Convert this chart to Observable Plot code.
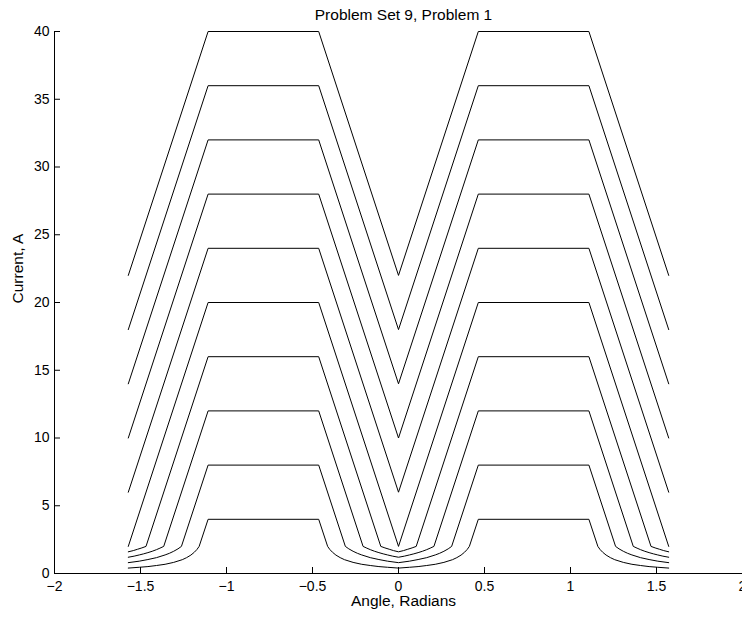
<!DOCTYPE html>
<html>
<head>
<meta charset="utf-8">
<script src="https://cdn.jsdelivr.net/npm/d3@7"></script>
<script src="https://cdn.jsdelivr.net/npm/@observablehq/plot@0.6"></script>
<style>
  html, body { margin: 0; padding: 0; background: #fff; }
  svg { display: block; }
</style>
</head>
<body>
<div id="chart"></div>
<script>
// ---- Text ----
const titleText = "Problem Set 9, Problem 1";
const xLabel = "Angle, Radians";
const yLabel = "Current, A";

// ---- Ticks ----
const xTicks = [-2, -1.5, -1, -0.5, 0, 0.5, 1, 1.5, 2];
const yTicks = [0, 5, 10, 15, 20, 25, 30, 35, 40];

// ---- Series (left half, angle from -pi/2 to 0; the right half is the mirror image) ----
const angleLinear = [-1.571, -1.107, -0.464, 0];
const current40 = [22, 40, 40, 22];
const current36 = [18, 36, 36, 18];
const current32 = [14, 32, 32, 14];
const current28 = [10, 28, 28, 10];
const current24 = [6, 24, 24, 6];
const current20 = [2, 20, 20, 2];

const angle16 = [-1.571, -1.542, -1.517, -1.492, -1.468, -1.107, -0.464, -0.103, -0.079, -0.054, -0.029, 0];
const current16 = [1.60, 1.69, 1.79, 1.89, 2.00, 16, 16, 2.00, 1.89, 1.79, 1.69, 1.60];

const angle12 = [-1.571, -1.537, -1.507, -1.482, -1.457, -1.432, -1.407, -1.387, -1.365, -1.107, -0.464, -0.206, -0.184, -0.164, -0.139, -0.114, -0.089, -0.064, -0.034, 0];
const current12 = [1.20, 1.28, 1.37, 1.45, 1.54, 1.64, 1.76, 1.87, 2.00, 12, 12, 2.00, 1.87, 1.76, 1.64, 1.54, 1.45, 1.37, 1.28, 1.20];

const angle8 = [-1.571, -1.507, -1.457, -1.407, -1.357, -1.332, -1.307, -1.282, -1.262, -1.107, -0.464, -0.309, -0.289, -0.264, -0.239, -0.214, -0.164, -0.114, -0.064, 0];
const current8 = [0.80, 0.91, 1.03, 1.17, 1.37, 1.49, 1.64, 1.82, 2.00, 8, 8, 2.00, 1.82, 1.64, 1.49, 1.37, 1.17, 1.03, 0.91, 0.80];

const angle4 = [-1.571, -1.507, -1.457, -1.407, -1.357, -1.307, -1.257, -1.232, -1.207, -1.187, -1.172, -1.159, -1.107, -0.464, -0.412, -0.399, -0.384, -0.364, -0.339, -0.314, -0.264, -0.214, -0.164, -0.114, -0.064, 0];
const current4 = [0.40, 0.46, 0.51, 0.59, 0.68, 0.82, 1.02, 1.17, 1.36, 1.57, 1.77, 2.00, 4, 4, 2.00, 1.77, 1.57, 1.36, 1.17, 1.02, 0.82, 0.68, 0.59, 0.51, 0.46, 0.40];

const seriesList = [
  {level: 4, angle: angle4, current: current4},
  {level: 8, angle: angle8, current: current8},
  {level: 12, angle: angle12, current: current12},
  {level: 16, angle: angle16, current: current16},
  {level: 20, angle: angleLinear, current: current20},
  {level: 24, angle: angleLinear, current: current24},
  {level: 28, angle: angleLinear, current: current28},
  {level: 32, angle: angleLinear, current: current32},
  {level: 36, angle: angleLinear, current: current36},
  {level: 40, angle: angleLinear, current: current40}
];

const rows = [];
for (const {level, angle, current} of seriesList) {
  angle.forEach((a, i) => rows.push({series: level, angle: a, current: current[i]}));
  for (let i = angle.length - 2; i >= 0; --i) {
    rows.push({series: level, angle: -angle[i], current: current[i]});
  }
}

const fmt = d => (d < 0 ? "\u2212" + Math.abs(d) : String(d));
const font = '"Liberation Sans", Arial, Helvetica, sans-serif';

const chart = Plot.plot({
  width: 742,
  height: 618,
  marginLeft: 54,
  marginRight: 0,
  marginTop: 31,
  marginBottom: 45,
  style: {fontFamily: font, fontSize: "14px", color: "#000", background: "#fff", overflow: "visible"},
  x: {domain: [-2, 2], axis: null},
  y: {domain: [0, 40], axis: null},
  marks: [
    Plot.axisX(xTicks, {anchor: "bottom", tickSize: -6, tickPadding: 14, tickFormat: fmt, label: null, fontSize: 14}),
    Plot.axisY(yTicks, {anchor: "left", tickSize: -6, tickPadding: 11, tickFormat: fmt, label: null, fontSize: 14}),
    Plot.ruleY([0], {stroke: "#000"}),
    Plot.ruleX([-2], {stroke: "#000"}),
    Plot.line(rows, {x: "angle", y: "current", z: "series", stroke: "#000", strokeWidth: 1}),
    Plot.text([titleText], {frameAnchor: "top", lineAnchor: "bottom", dx: 5, dy: -11.5, fontSize: 15.5}),
    Plot.text([xLabel], {frameAnchor: "bottom", lineAnchor: "bottom", dx: 5, dy: 32, fontSize: 15.5}),
    Plot.text([yLabel], {frameAnchor: "left", lineAnchor: "bottom", rotate: -90, dx: -31.5, dy: 1, fontSize: 15.5})
  ]
});

document.getElementById("chart").appendChild(chart);
</script>
</body>
</html>
